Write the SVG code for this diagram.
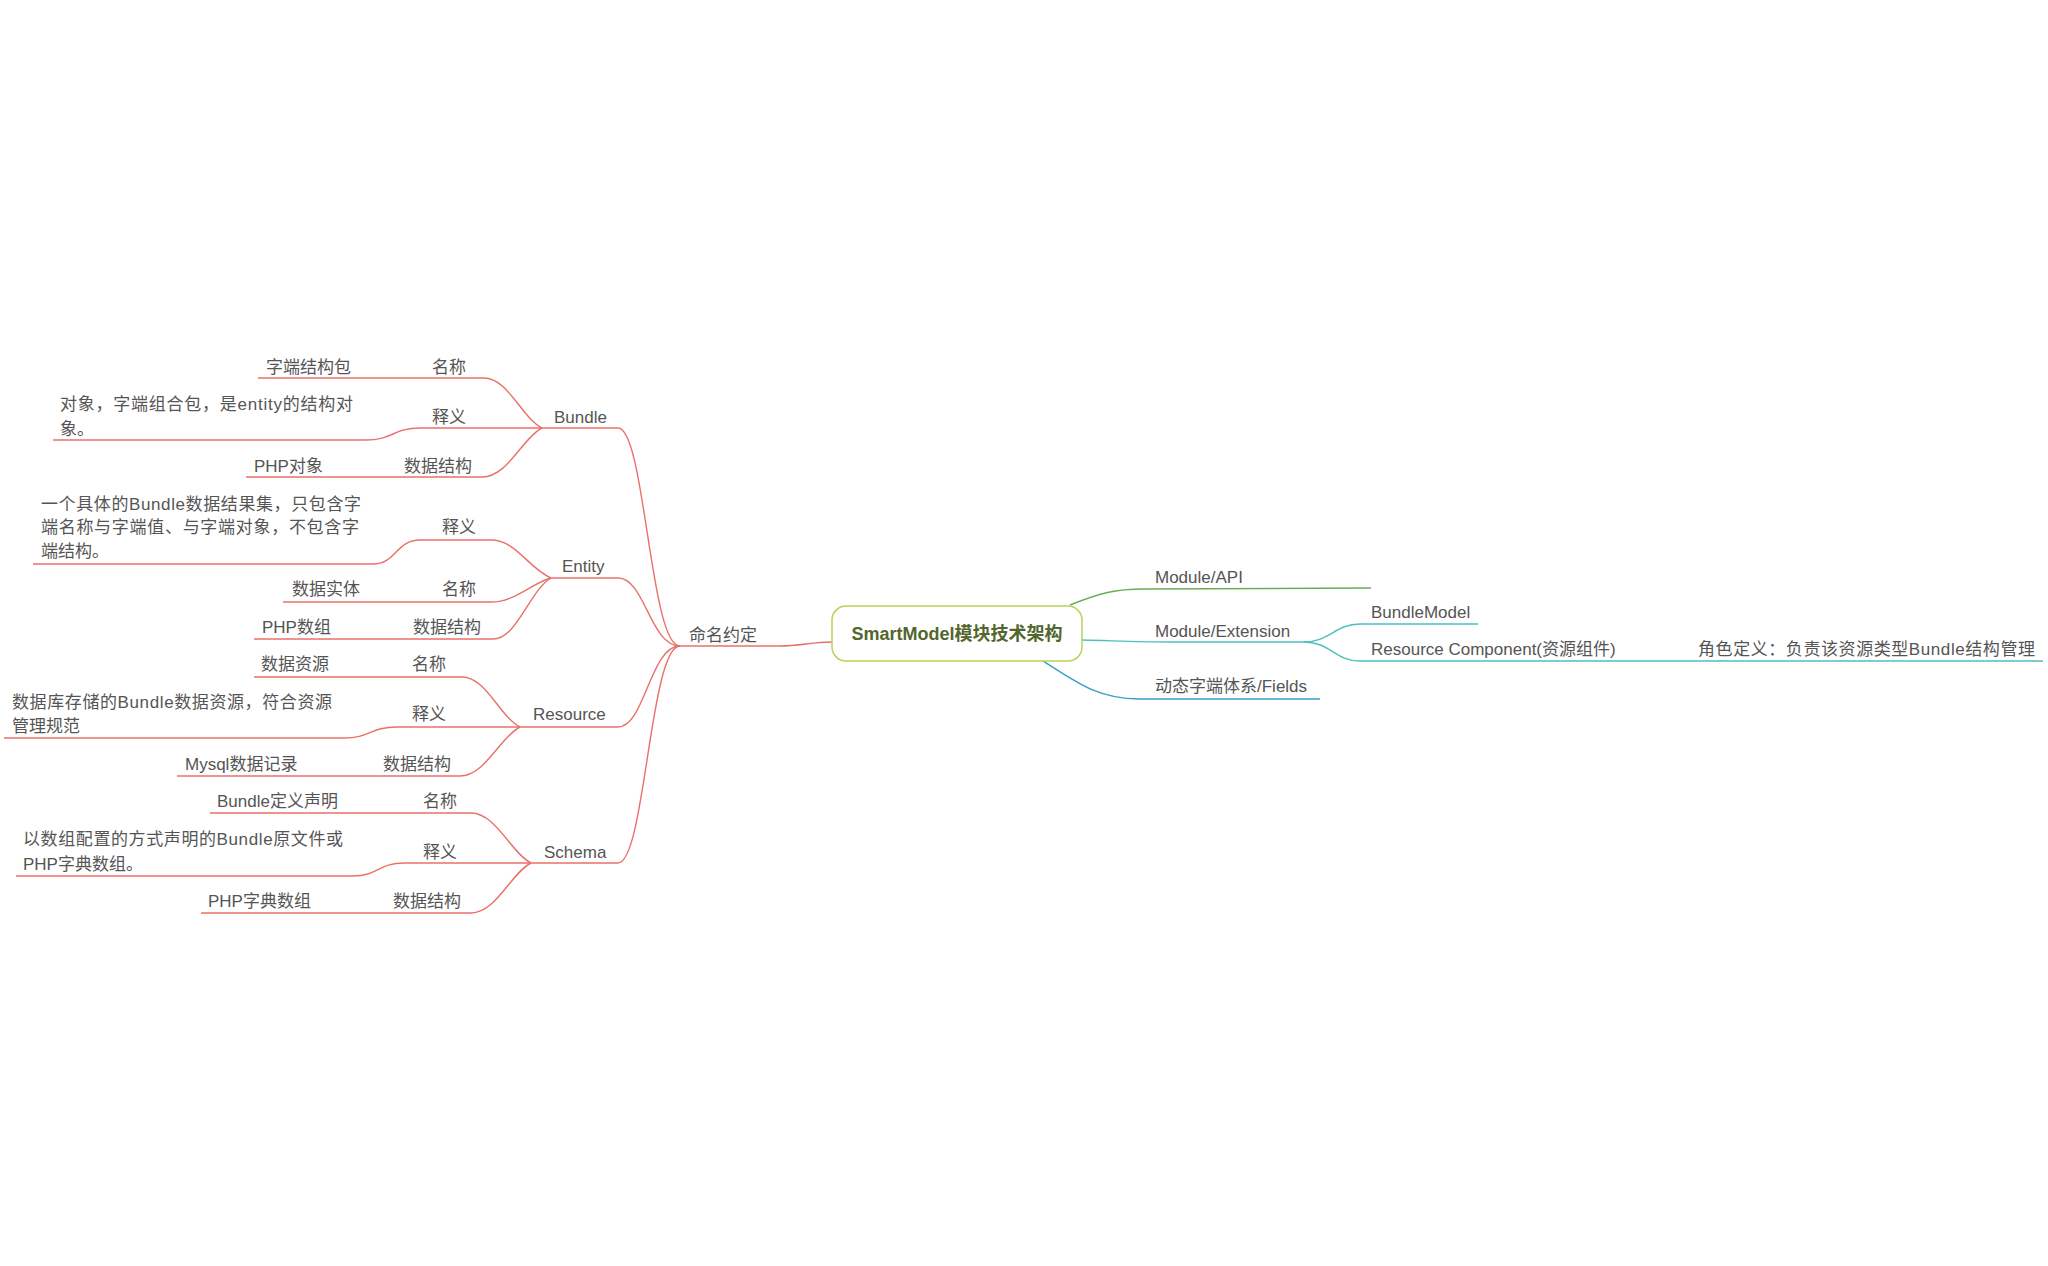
<svg xmlns="http://www.w3.org/2000/svg" width="2048" height="1266" viewBox="0 0 2048 1266">
  <style>
    .t { font-family: "Liberation Sans", "Noto Sans CJK SC", sans-serif; font-size: 17px; fill: #555555; }
    .root { font-family: "Liberation Sans", "Noto Sans CJK SC", sans-serif; font-size: 18px; font-weight: bold; fill: #52662e; }
    .red { fill: none; stroke: #e8716a; stroke-width: 1.4; }
    .green { fill: none; stroke: #6aae52; stroke-width: 1.4; }
    .teal { fill: none; stroke: #4fbfc0; stroke-width: 1.4; }
    .blue { fill: none; stroke: #3a9ec6; stroke-width: 1.4; }
  </style>
  <rect width="2048" height="1266" fill="#ffffff"/>

  <!-- branch lines and topic underlines -->
  <g id="connectors">
    <!-- root to naming convention -->
    <path class="red" d="M832,642 C812,642 800,646 780,646 L680,646"/>
    <!-- naming convention to its four children -->
    <path class="red" d="M680,646 C650,646 645,428 618,428 L542,428"/>
    <path class="red" d="M680,646 C650,646 645,578 618,578 L551,578"/>
    <path class="red" d="M680,646 C650,646 645,727 618,727 L520,727"/>
    <path class="red" d="M680,646 C650,646 645,863 618,863 L531,863"/>

    <!-- Bundle children -->
    <path class="red" d="M542,428 C522,418 508,378 484,378 L258,378"/>
    <path class="red" d="M542,428 L420,428 C393,428 393,440 366,440 L53,440"/>
    <path class="red" d="M542,428 C522,438 508,477 482,477 L246,477"/>

    <!-- Entity children -->
    <path class="red" d="M551,578 C528,568 516,540 491,540 L420,540 C396,540 396,564 373,564 L33,564"/>
    <path class="red" d="M551,578 C530,584 515,602 491,602 L283,602"/>
    <path class="red" d="M551,578 C530,590 517,639 493,639 L254,639"/>

    <!-- Resource children -->
    <path class="red" d="M520,727 C500,717 486,677 462,677 L254,677"/>
    <path class="red" d="M520,727 L397,727 C370,727 370,738 344,738 L4,738"/>
    <path class="red" d="M520,727 C500,737 485,776 460,776 L177,776"/>

    <!-- Schema children -->
    <path class="red" d="M531,863 C511,853 496,813 471,813 L210,813"/>
    <path class="red" d="M531,863 L404,863 C378,863 378,876 353,876 L16,876"/>
    <path class="red" d="M531,863 C511,873 496,913 471,913 L201,913"/>

    <!-- right side -->
    <path class="green" d="M1070,605 C1100,593 1115,589 1144,589 L1371,588"/>
    <path class="teal" d="M1082,640 C1120,641 1140,642 1170,642 L1304,642"/>
    <path class="teal" d="M1304,642 C1330,642 1335,624 1360,624 L1478,624"/>
    <path class="teal" d="M1304,642 C1330,642 1335,661 1360,661 L2043,661"/>
    <path class="blue" d="M1043,661 C1080,685 1100,699 1139,699 L1320,699"/>
  </g>

  <!-- central topic -->
  <g id="root">
    <rect x="832" y="606" width="250" height="55" rx="14" fill="#ffffff" stroke="#b8d35a" stroke-width="1.5"/>
    <text class="root" x="957" y="640" text-anchor="middle">SmartModel模块技术架构</text>
  </g>

  <g id="naming">
    <text class="t" x="689" y="641">命名约定</text>
  </g>

  <!-- Bundle -->
  <g id="bundle">
    <text class="t" x="554" y="423">Bundle</text>
  </g>
  <g id="bundle-name">
    <text class="t" x="432" y="373">名称</text>
  </g>
  <g id="bundle-name-value">
    <text class="t" x="266" y="373">字端结构包</text>
  </g>
  <g id="bundle-def">
    <text class="t" x="432" y="423">释义</text>
  </g>
  <g id="bundle-def-value">
    <text class="t" x="60" y="410" textLength="293" lengthAdjust="spacing">对象，字端组合包，是entity的结构对</text>
    <text class="t" x="60" y="435">象。</text>
  </g>
  <g id="bundle-struct">
    <text class="t" x="404" y="472">数据结构</text>
  </g>
  <g id="bundle-struct-value">
    <text class="t" x="254" y="472">PHP对象</text>
  </g>

  <!-- Entity -->
  <g id="entity">
    <text class="t" x="562" y="572">Entity</text>
  </g>
  <g id="entity-def">
    <text class="t" x="442" y="533">释义</text>
  </g>
  <g id="entity-def-value">
    <text class="t" x="41" y="510" textLength="320" lengthAdjust="spacing">一个具体的Bundle数据结果集，只包含字</text>
    <text class="t" x="41" y="533" textLength="318" lengthAdjust="spacing">端名称与字端值、与字端对象，不包含字</text>
    <text class="t" x="41" y="557">端结构。</text>
  </g>
  <g id="entity-name">
    <text class="t" x="442" y="595">名称</text>
  </g>
  <g id="entity-name-value">
    <text class="t" x="292" y="595">数据实体</text>
  </g>
  <g id="entity-struct">
    <text class="t" x="413" y="633">数据结构</text>
  </g>
  <g id="entity-struct-value">
    <text class="t" x="262" y="633">PHP数组</text>
  </g>

  <!-- Resource -->
  <g id="resource">
    <text class="t" x="533" y="720">Resource</text>
  </g>
  <g id="resource-name">
    <text class="t" x="412" y="670">名称</text>
  </g>
  <g id="resource-name-value">
    <text class="t" x="261" y="670">数据资源</text>
  </g>
  <g id="resource-def">
    <text class="t" x="412" y="720">释义</text>
  </g>
  <g id="resource-def-value">
    <text class="t" x="12" y="708" textLength="320" lengthAdjust="spacing">数据库存储的Bundle数据资源，符合资源</text>
    <text class="t" x="12" y="732">管理规范</text>
  </g>
  <g id="resource-struct">
    <text class="t" x="383" y="770">数据结构</text>
  </g>
  <g id="resource-struct-value">
    <text class="t" x="185" y="770">Mysql数据记录</text>
  </g>

  <!-- Schema -->
  <g id="schema">
    <text class="t" x="544" y="858">Schema</text>
  </g>
  <g id="schema-name">
    <text class="t" x="423" y="807">名称</text>
  </g>
  <g id="schema-name-value">
    <text class="t" x="217" y="807">Bundle定义声明</text>
  </g>
  <g id="schema-def">
    <text class="t" x="423" y="858">释义</text>
  </g>
  <g id="schema-def-value">
    <text class="t" x="23" y="845" textLength="320" lengthAdjust="spacing">以数组配置的方式声明的Bundle原文件或</text>
    <text class="t" x="23" y="870">PHP字典数组。</text>
  </g>
  <g id="schema-struct">
    <text class="t" x="393" y="907">数据结构</text>
  </g>
  <g id="schema-struct-value">
    <text class="t" x="208" y="907">PHP字典数组</text>
  </g>

  <!-- right side topics -->
  <g id="module-api">
    <text class="t" x="1155" y="583">Module/API</text>
  </g>
  <g id="module-extension">
    <text class="t" x="1155" y="637">Module/Extension</text>
  </g>
  <g id="bundle-model">
    <text class="t" x="1371" y="618">BundleModel</text>
  </g>
  <g id="resource-component">
    <text class="t" x="1371" y="655">Resource Component(资源组件)</text>
  </g>
  <g id="role-definition">
    <text class="t" x="1698" y="655" textLength="337" lengthAdjust="spacing">角色定义：负责该资源类型Bundle结构管理</text>
  </g>
  <g id="fields">
    <text class="t" x="1155" y="692">动态字端体系/Fields</text>
  </g>
</svg>
